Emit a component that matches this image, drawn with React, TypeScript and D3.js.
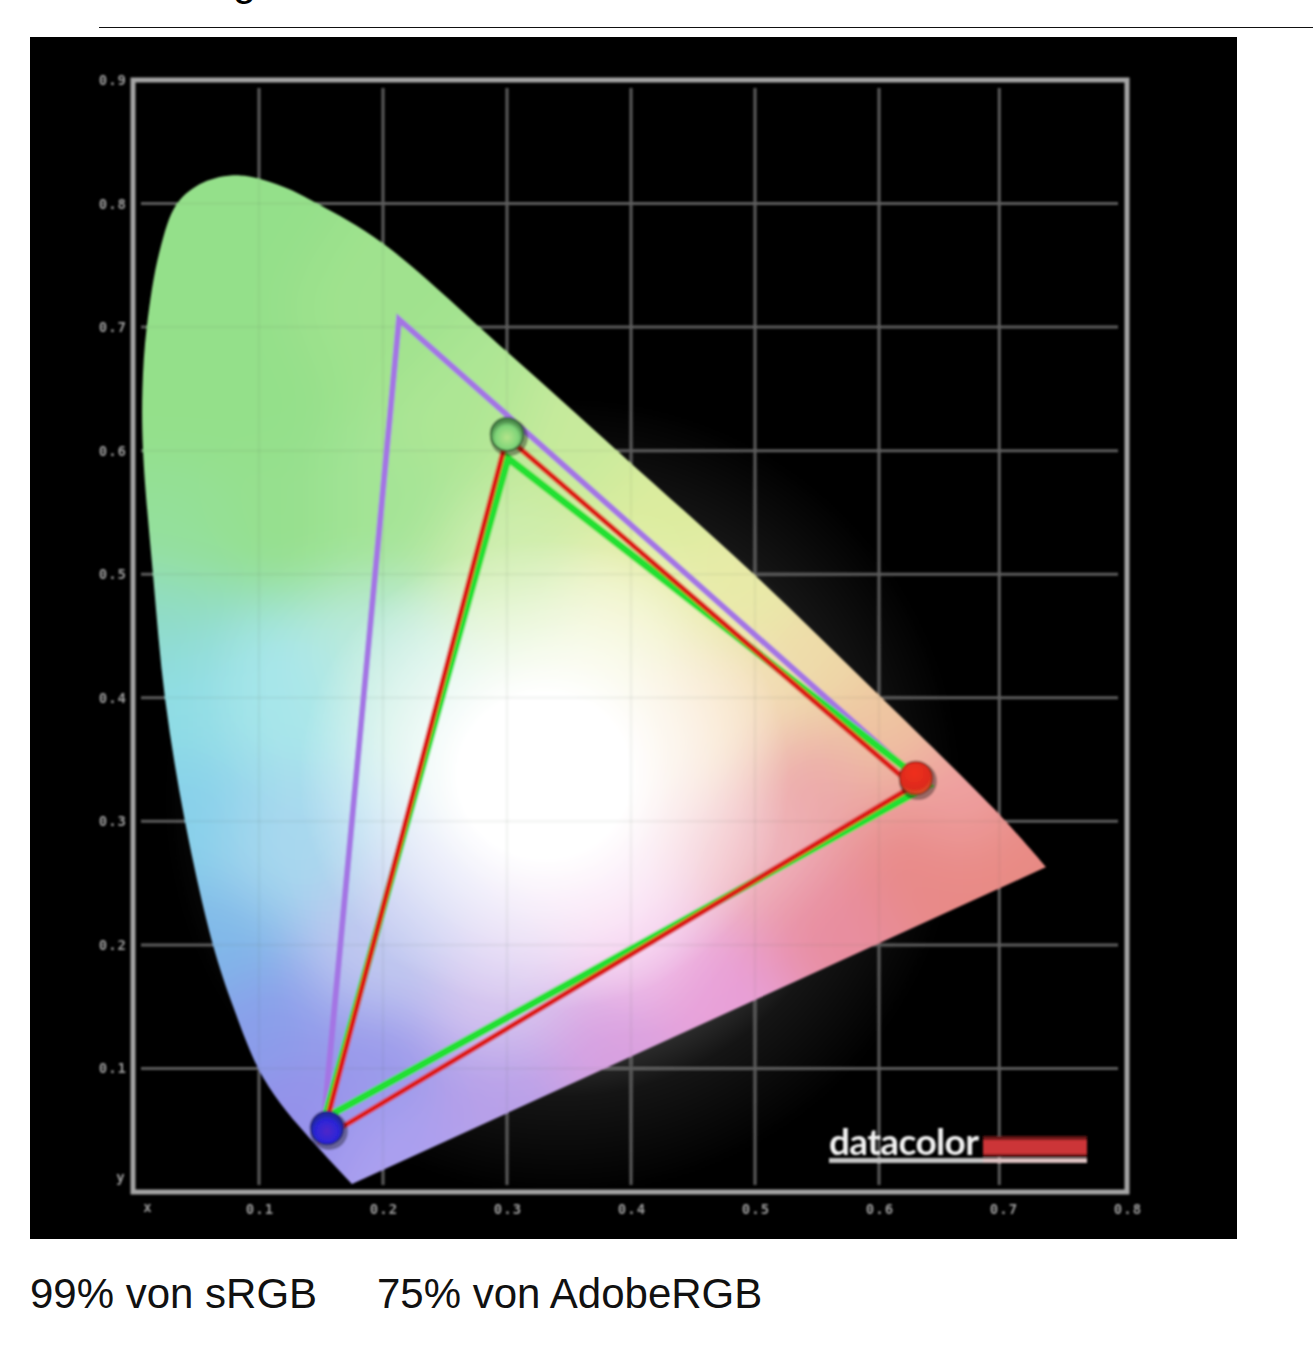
import React from "react";
import * as d3 from "d3";

const locusX = [0.175,0.1387,0.117,0.0992,0.0792,0.0629,0.0403,0.0242,0.0145,0.0065,0.006,0.0095,0.02,0.034,0.055,0.0847,0.12,0.147,0.2,0.3,0.391,0.498,0.598,0.6976,0.7347];
const locusY = [0.0065,0.046,0.072,0.1003,0.15,0.2,0.3,0.3997,0.5,0.5995,0.65,0.7,0.762,0.8,0.817,0.8228,0.8135,0.8,0.7677,0.68,0.598,0.501,0.404,0.305,0.263];

const tintX = [0.08,0.03,0.1,0.2,0.03,0.12,0.2,0.27,0.35,0.42,0.48,0.55,0.6,0.66,0.72,0.63,0.55,0.47,0.38,0.3,0.2,0.14,0.19,0.1,0.07,0.045,0.03,0.02,0.12,0.12,0.2,0.3,0.4,0.5,0.55,0.48,0.4,0.3,0.2];
const tintY = [0.78,0.65,0.65,0.7,0.52,0.55,0.55,0.63,0.6,0.54,0.48,0.42,0.38,0.32,0.27,0.27,0.22,0.16,0.12,0.08,0.03,0.06,0.1,0.14,0.2,0.3,0.4,0.47,0.4,0.28,0.2,0.16,0.2,0.27,0.33,0.4,0.48,0.5,0.43];
const tintC = ["#94e08a","#94e08a","#94e08a","#a0e28e","#94e09a","#96e08e","#a4e496","#aee694","#c8ea9c","#dcec9e","#e8eaa8","#eedaa8","#eec4a0","#eea0a0","#e88a84","#e88a88","#e88ea0","#e8a0d8","#d8a0e0","#b8a0e8","#aba0f0","#9490ea","#9a9aea","#8a9eea","#80b8e8","#88d0ea","#8fdde4","#90dcc8","#a8e6ea","#a8d8ee","#c0c8f0","#d8c8f0","#f4c8ec","#f0b8c0","#ecaaaa","#f6e0c0","#eef2c0","#d0eeb0","#bceadc"];

const gridX = [0.1,0.2,0.3,0.4,0.5,0.6,0.697];
const gridY = [0.1,0.2,0.3,0.4,0.5,0.6,0.7,0.8];
const xTicks = [0.1,0.2,0.3,0.4,0.5,0.6,0.7,0.8];
const yTicks = [0.1,0.2,0.3,0.4,0.5,0.6,0.7,0.8,0.9];

const adobeX = [0.152,0.2129,0.627];
const adobeY = [0.0542,0.7063,0.338];
const panelX = [0.3,0.6274,0.1508];
const panelY = [0.6108,0.3285,0.0429];
const srgbX = [0.3008,0.6395,0.1532];
const srgbY = [0.5939,0.3289,0.0599];

const dotX = [0.6298,0.3,0.1548];
const dotY = [0.335,0.6133,0.0518];
const dotIds = ["dotR","dotG","dotB"];
const dotRing = ["#7a2a18","#2f5c30","#20246c"];

const captions = ["99% von sRGB","75% von AdobeRGB"];

const x = d3.scaleLinear().domain([0,0.8]).range([135,1127]);
const y = d3.scaleLinear().domain([0,0.9]).range([1192,80]);
const curve = d3.line<number>().x(i=>x(locusX[i])).y(i=>y(locusY[i])).curve(d3.curveCatmullRom.alpha(0.5));
const locusPath = curve(d3.range(locusX.length))+"Z";
const tri = (xs:number[],ys:number[],close=true) => d3.line<number>().x(i=>x(xs[i])).y(i=>y(ys[i]))(d3.range(3))+(close?"Z":"");
const fmt = d3.format(".1f");
const sans = "'Liberation Sans', Arial, sans-serif";
const voronoi = d3.Delaunay.from(tintX.map((v,i)=>[x(v),y(tintY[i])] as [number,number])).voronoi([-200,-200,1500,1600]);

export default function App(){
  const gridLines = (stroke:string,opacity:number) => <g stroke={stroke} strokeOpacity={opacity} strokeWidth={3}>
    {gridX.map(v=><line key={v} x1={x(v)} x2={x(v)} y1={88} y2={1185}/>)}
    {gridY.map(v=><line key={v} y1={y(v)} y2={y(v)} x1={141} x2={1118}/>)}
  </g>;
  return (
    <svg width={1313} height={1367} style={{position:"absolute",left:0,top:0,display:"block"}}>
      <rect width={1313} height={1367} fill="#fff"/>
      <text x={256} y={-5} textAnchor="end" fontFamily={sans} fontSize={42} fill="#000">g</text>
      <line x1={99} x2={1313} y1={27.5} y2={27.5} stroke="#111" strokeWidth={1}/>
      <rect x={30} y={37} width={1207} height={1202} fill="#000"/>
      <defs>
        <clipPath id="panel"><rect x={30} y={37} width={1207} height={1202}/></clipPath>
        <clipPath id="gamut"><path d={locusPath}/></clipPath>
        <filter id="soft" filterUnits="userSpaceOnUse" x={-200} y={-200} width={1700} height={1800}><feGaussianBlur stdDeviation={30}/></filter>
        <filter id="img" x="-2%" y="-2%" width="104%" height="104%"><feGaussianBlur stdDeviation={0.8}/></filter>
        <radialGradient id="glow">
          <stop offset="0.55" stopColor="#fff" stopOpacity={0.28}/>
          <stop offset="0.75" stopColor="#fff" stopOpacity={0.08}/>
          <stop offset="1" stopColor="#fff" stopOpacity={0}/>
        </radialGradient>
        <radialGradient id="white">
          <stop offset="0.35" stopColor="#fff" stopOpacity={1}/>
          <stop offset="0.7" stopColor="#fff" stopOpacity={0.5}/>
          <stop offset="1" stopColor="#fff" stopOpacity={0}/>
        </radialGradient>
        <radialGradient id="dotR" cx="0.45" cy="0.35" r="0.75"><stop offset="0" stopColor="#f03020"/><stop offset="0.65" stopColor="#dc2a1c"/><stop offset="1" stopColor="#d87a30"/></radialGradient>
        <radialGradient id="dotG" cx="0.5" cy="0.6"><stop offset="0" stopColor="#b4e48a"/><stop offset="0.7" stopColor="#7ed478"/><stop offset="1" stopColor="#4a8a4a"/></radialGradient>
        <radialGradient id="dotB" cx="0.5" cy="0.6"><stop offset="0" stopColor="#5028c8"/><stop offset="0.7" stopColor="#2a24d8"/><stop offset="1" stopColor="#2028a0"/></radialGradient>
      </defs>
      <g clipPath="url(#panel)">
        <g filter="url(#img)">
          <circle cx={x(0.345)} cy={y(0.32)} r={400} fill="url(#glow)"/>
          {gridLines("#5c5c5c",1)}
          <rect x={x(0)-2} y={80} width={994} height={1112} fill="none" stroke="#a4a4a4" strokeWidth={5}/>
          <g clipPath="url(#gamut)">
            <g filter="url(#soft)">
              {tintX.map((_,i)=><path key={i} d={voronoi.renderCell(i)} fill={tintC[i]} stroke={tintC[i]} strokeWidth={1}/>)}
            </g>
            <ellipse cx={x(0.33)} cy={y(0.337)} rx={245} ry={235} fill="url(#white)"/>
            {gridLines("#506050",0.06)}
          </g>
          <g fill="none" strokeLinejoin="miter">
            <path d={tri(adobeX,adobeY,false)} stroke="#a474e4" strokeWidth={6}/>
            <path d={tri(srgbX,srgbY)} stroke="#22e030" strokeWidth={7.5}/>
            <path d={tri(panelX,panelY)} stroke="#dc1c18" strokeWidth={5.5}/>
          </g>
          {dotX.map((v,i)=><g key={i}>
            <circle cx={x(v)+2} cy={y(dotY[i])+3} r={19} fill="#000" opacity={0.35}/>
            <circle cx={x(v)} cy={y(dotY[i])} r={16.5} fill={`url(#${dotIds[i]})`} stroke={dotRing[i]} strokeWidth={1.5}/>
          </g>)}
          <g fontFamily="'DejaVu Sans Mono', monospace" fontSize={14} fontWeight={700} letterSpacing={1} fill="#9c9c9c">
            {yTicks.map(v=><text key={v} x={127} y={y(v)+5} textAnchor="end">{fmt(v)}</text>)}
            {xTicks.map(v=><text key={v} x={x(v)+1} y={1214} textAnchor="middle">{fmt(v)}</text>)}
            <text x={148} y={1212} textAnchor="middle">x</text>
            <text x={121} y={1182} textAnchor="middle">y</text>
          </g>
          <text x={829} y={1155} fontFamily="Lato, sans-serif" fontWeight={700} fontSize={37} fill="#f2f2f2" textLength={150}>datacolor</text>
          <rect x={983} y={1136} width={104} height={21} fill="#6a1416"/>
          <rect x={983} y={1140} width={104} height={14} fill="#cc3438"/>
          <rect x={829} y={1158} width={154} height={5} fill="#c4c4c4"/>
          <rect x={983} y={1158} width={104} height={5} fill="#dcc0c0"/>
        </g>
      </g>
      <text x={30} y={1308} fontFamily={sans} fontSize={42} fill="#111">{captions[0]}</text>
      <text x={377} y={1308} fontFamily={sans} fontSize={42} fill="#111">{captions[1]}</text>
    </svg>
  );
}
